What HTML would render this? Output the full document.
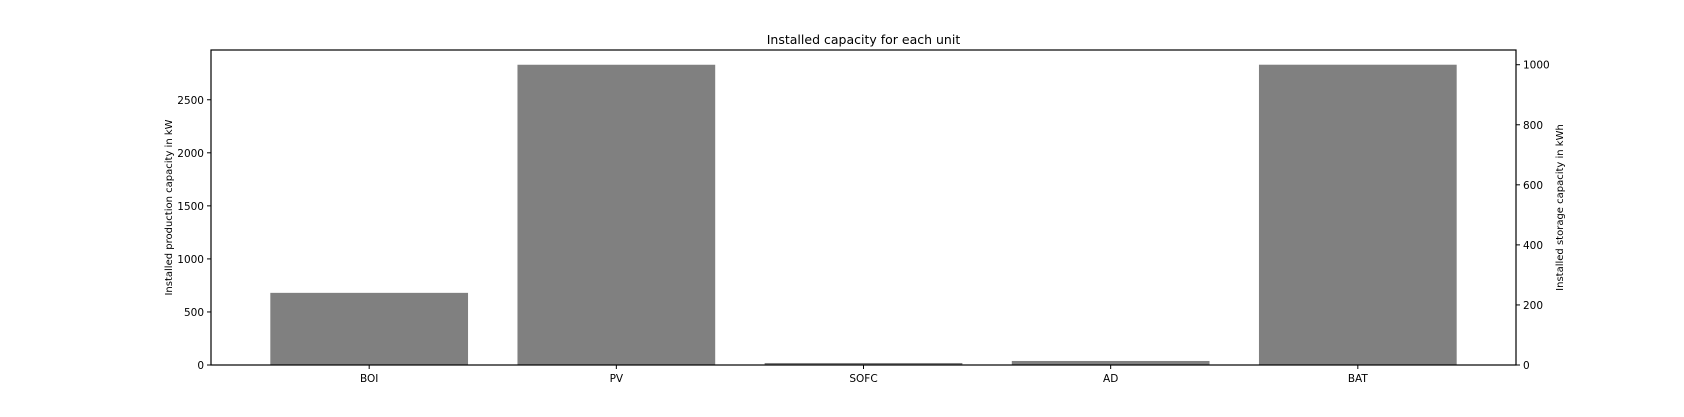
<!DOCTYPE html>
<html><head><meta charset="utf-8"><style>
html,body{margin:0;padding:0;background:#fff;}
svg{display:block;font-family:"DejaVu Sans","Liberation Sans",sans-serif;}
</style></head><body>
<svg id="chart" width="1684" height="417"></svg>
<script>
const categories = ["BOI","PV","SOFC","AD","BAT"];
const productionValues = [680, 2830, 19, 38, null];
const storageValues = [null, null, null, null, 1000];
const leftTicks = [0,500,1000,1500,2000,2500];
const rightTicks = [0,200,400,600,800,1000];

const NS="http://www.w3.org/2000/svg";
const svg=document.getElementById('chart');
const L=211,R=1516,T=50,B=365;
const xMin=-0.64,xMax=4.64,yLMax=2969,yRMax=1049;
const xs=v=>L+(v-xMin)/(xMax-xMin)*(R-L);
const yl=v=>B-v/yLMax*(B-T);
const yr=v=>B-v/yRMax*(B-T);
function el(tag,attrs,txt){const e=document.createElementNS(NS,tag);for(const k in attrs)e.setAttribute(k,attrs[k]);if(txt!==undefined)e.textContent=txt;svg.appendChild(e);return e;}

categories.forEach((c,i)=>{
  const isStore=productionValues[i]===null;
  const v=isStore?storageValues[i]:productionValues[i];
  const y=isStore?yr(v):yl(v);
  const b=el('rect',{x:xs(i-0.4),y:y,width:xs(i+0.4)-xs(i-0.4),height:B-y,fill:'#808080'});
  
  
  const t=el('line',{x1:xs(i),x2:xs(i),y1:B,y2:B+4,stroke:'#000','stroke-width':1});
  
  
  const lb=el('text',{x:xs(i),y:B+17,'text-anchor':'middle','font-size':10.5,fill:'#000'},c);
  
  
});
leftTicks.forEach(v=>{
  const t=el('line',{x1:L-4,x2:L,y1:yl(v),y2:yl(v),stroke:'#000'});
  
  
  const lb=el('text',{x:L-7,y:yl(v)+4,'text-anchor':'end','font-size':10.5},v);
  
  
});
rightTicks.forEach(v=>{
  const t=el('line',{x1:R,x2:R+4,y1:yr(v),y2:yr(v),stroke:'#000'});
  
  
  const lb=el('text',{x:R+7,y:yr(v)+4,'text-anchor':'start','font-size':10.5},v);
  
  
});
const frame=el('rect',{x:L,y:T,width:R-L,height:B-T,fill:'none',stroke:'#000','stroke-width':1.2});


const title=el('text',{x:(L+R)/2,y:44,'text-anchor':'middle','font-size':12.5},'Installed capacity for each unit');


const yt=el('text',{x:0,y:0,'text-anchor':'middle','font-size':10,transform:`translate(172,${(T+B)/2}) rotate(-90)`},'Installed production capacity in kW');


const yt2=el('text',{x:0,y:0,'text-anchor':'middle','font-size':10,transform:`translate(1563,${(T+B)/2}) rotate(-90)`},'Installed storage capacity in kWh');


</script>
</body></html>
